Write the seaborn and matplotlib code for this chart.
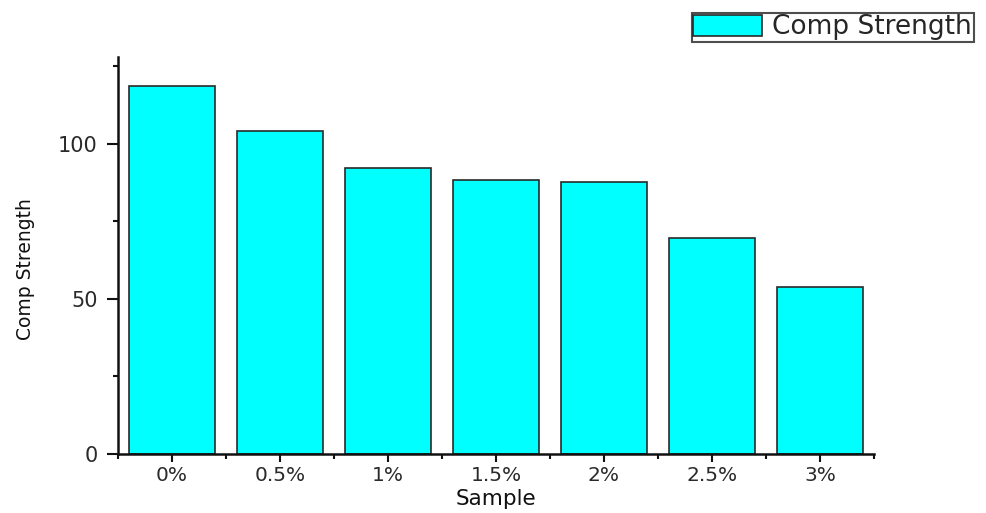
import matplotlib
matplotlib.use("Agg")
import matplotlib.pyplot as plt
import seaborn as sns
import pandas as pd
from matplotlib.ticker import FixedLocator

samples = ["0%", "0.5%", "1%", "1.5%", "2%", "2.5%", "3%"]
comp_strength = [118.5, 104.2, 92.3, 88.4, 87.7, 69.6, 54.0]

df = pd.DataFrame({"Sample": samples, "Comp Strength": comp_strength})

sns.set_style("ticks")
plt.rcParams["font.family"] = ["DejaVu Sans"]

fig = plt.figure(figsize=(9.87, 5.13), dpi=100)
ax = fig.add_axes([118/987, 1-454/513, (874-118)/987, (454-57)/513])

sns.barplot(data=df, x="Sample", y="Comp Strength", color="#00FFFF",
            edgecolor="#2a2a2a", linewidth=1.2, width=0.8, saturation=1,
            label="Comp Strength", ax=ax)

ax.set_xlim(-0.5, 6.5)
ax.set_ylim(0, 128)
ax.set_yticks([0, 50, 100])
ax.yaxis.set_minor_locator(FixedLocator([25, 75, 125]))
ax.xaxis.set_minor_locator(FixedLocator([i - 0.5 for i in range(8)]))

for s in ["top", "right"]:
    ax.spines[s].set_visible(False)
for s in ["left", "bottom"]:
    ax.spines[s].set_linewidth(1.8)
    ax.spines[s].set_color("#111111")

ax.tick_params(axis="x", which="major", length=6, width=1.5, pad=2.5,
               labelsize=14.5, colors="#111111", labelcolor="#2a2a2a")
ax.tick_params(axis="y", which="major", length=8, width=1.5, pad=6.5,
               labelsize=15, colors="#111111", labelcolor="#2a2a2a")
ax.tick_params(which="minor", length=3.5, width=1.5, colors="#111111")

ax.set_xlabel("Sample", fontsize=15.5, color="#111111")
ax.set_ylabel("Comp Strength", fontsize=13.5, color="#111111")
ax.xaxis.set_label_coords(0.5, -0.087)
ax.yaxis.set_label_coords(-0.11, 0.465)

leg = ax.legend(loc="upper left", bbox_to_anchor=(692/987, 1-13/513),
                bbox_transform=fig.transFigure, fontsize=19, frameon=True,
                fancybox=False, shadow=False, borderpad=0.05, handlelength=2.6,
                handleheight=0.85, handletextpad=0.4, borderaxespad=0)
leg.get_frame().set_edgecolor("#222222")
leg.get_frame().set_linewidth(1.5)

fig.savefig("out.png", dpi=100)
